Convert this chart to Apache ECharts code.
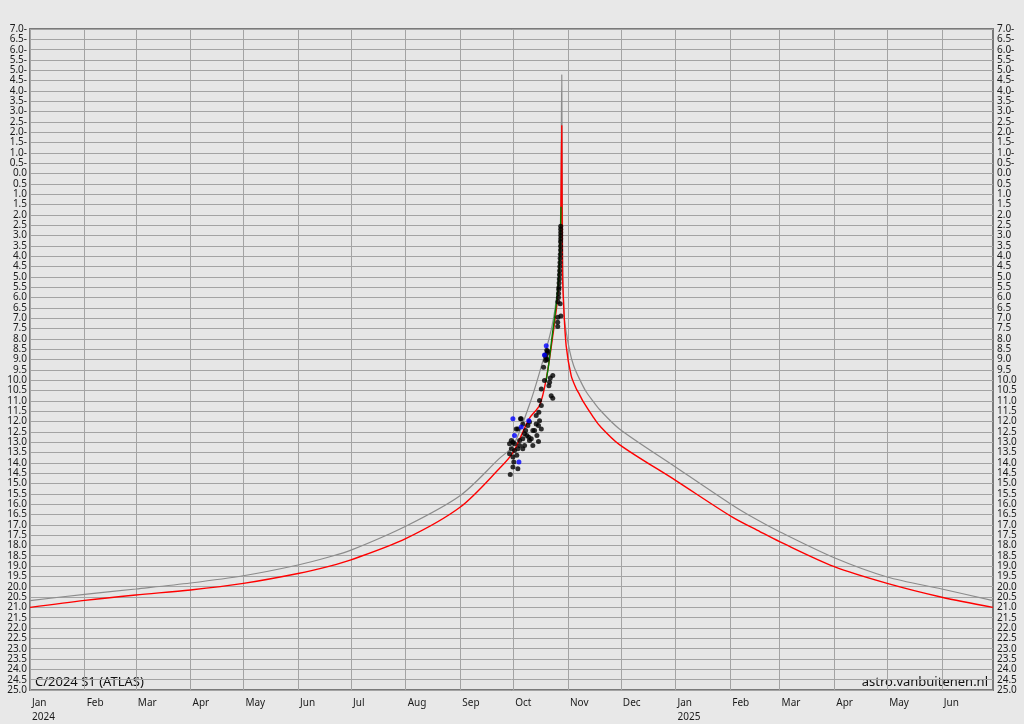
<!DOCTYPE html>
<html><head><meta charset="utf-8">
<script src="https://cdn.jsdelivr.net/npm/echarts@6/dist/echarts.min.js"></script>
<style>html,body{margin:0;padding:0;background:#e8e8e8}#c{width:1024px;height:724px}</style>
</head><body><div id="c"></div><script>
// ---- data ----
const monthStarts = ['2024-01-01','2024-02-01','2024-03-01','2024-04-01','2024-05-01','2024-06-01','2024-07-01','2024-08-01','2024-09-01','2024-10-01','2024-11-01','2024-12-01','2025-01-01','2025-02-01','2025-03-01','2025-04-01','2025-05-01','2025-06-01'];
const monthNames = ['Jan','Feb','Mar','Apr','May','Jun','Jul','Aug','Sep','Oct','Nov','Dec'];

const grayDates = ['2024-01-01','2024-02-01','2024-03-01','2024-04-01','2024-05-01','2024-06-01','2024-06-19','2024-07-01','2024-08-01','2024-09-01','2024-09-23','2024-10-01','2024-10-10','2024-10-16','2024-10-23','2024-10-26 06:00','2024-10-27 12:00','2024-10-28 00:00','2024-10-28 12:00','2024-10-29 00:00','2024-10-29 12:00','2024-10-30 00:00','2024-11-02 00:00','2024-11-04 06:00','2024-11-07 14:00','2024-11-11 06:00','2024-11-15 02:00','2024-11-18 22:00','2024-11-30 05:00','2025-01-01','2025-02-01','2025-02-15','2025-03-01','2025-04-01','2025-05-01','2025-06-01','2025-06-30'];
const grayMag = [20.67,20.37,20.11,19.82,19.47,18.95,18.55,18.23,17.07,15.58,13.8,13.16,11.23,9.6,7.37,5.4,3.2,1.0,-4.78,4.0,6.0,7.05,8.6,9.3,9.95,10.55,11.0,11.42,12.36,14.2,15.98,16.7,17.34,18.6,19.53,20.11,20.67];

const redDates = ['2024-01-01','2024-02-01','2024-03-01','2024-04-01','2024-05-01','2024-06-01','2024-06-19','2024-07-01','2024-08-01','2024-09-01','2024-09-23','2024-10-01','2024-10-10','2024-10-16','2024-10-19 16:00','2024-10-23 10:00','2024-10-26 06:00','2024-10-27 14:00','2024-10-28 00:00','2024-10-28 12:00','2024-10-28 22:00','2024-10-29 14:00','2024-10-31 00:00','2024-11-02 20:00','2024-11-05 16:00','2024-11-07 14:00','2024-11-09 10:00','2024-11-15 02:00','2024-11-18 22:00','2024-11-30 05:00','2025-01-01','2025-02-02','2025-02-18','2025-03-01','2025-04-01','2025-05-01','2025-06-01','2025-06-30'];
const redMag = [21.0,20.66,20.40,20.16,19.84,19.36,19.0,18.70,17.67,16.14,14.29,13.48,11.87,11.2,9.95,7.85,5.92,3.5,1.9,-2.33,4.78,6.4,8.34,9.78,10.4,10.7,11.0,11.75,12.2,13.12,14.85,16.62,17.34,17.82,19.03,19.84,20.51,21.0];

// green fit: day of October 2024 (fractional), magnitude
const greenOctDay = [19.5,21,23,25,26.5,27.5,28.1];
const greenMag = [10.1,9.3,7.9,6.6,5.4,3.6,1.6];

// observations: [day of October 2024 (fractional), magnitude]
const obsBlack = [
 [27.9,2.55],[27.9,2.7],[27.9,2.85],[27.9,3.0],[27.9,3.15],[27.8,3.3],[27.8,3.5],[27.8,3.7],[27.7,3.9],[27.6,4.1],[27.5,4.3],[27.4,4.5],[27.3,4.7],[27.2,4.9],[27.1,5.1],[27.0,5.3],[26.9,5.5],[26.8,5.6],[26.7,5.8],[26.6,6.0],
 [26.3,6.2],[27.6,6.3],[26.3,6.95],[28.0,6.9],[26.2,7.2],[26.2,7.4],
 [20.0,8.55],[20.3,8.7],[19.6,8.9],[20.1,9.0],[19.3,9.05],[18.2,9.38],[23.4,9.78],[18.7,10.02],[21.6,10.1],[16.9,10.43],[21.2,10.27],[22.5,10.75],[23.4,10.88],[15.9,10.99],[16.9,11.23],[15.5,11.55],[14.0,11.71],[15.9,11.96],[14.0,12.12],[15.3,12.2],[16.9,12.36],[13.1,12.44],[14.4,12.68],[12.1,12.44],[10.2,12.03],[9.3,12.2],[6.4,12.12],[5.5,11.87],[5.1,11.87],[3.6,12.36],[2.7,12.36],[8.0,12.44],[7.4,12.6],[8.7,12.68],[9.8,12.76],[11.2,12.84],[10.2,12.92],[6.4,12.84],[4.6,12.92],[-0.1,12.92],[0.8,13.0],[-1.1,13.08],[1.7,13.08],[4.6,13.16],[7.4,13.16],[12.1,13.16],[15.3,12.97],[3.6,13.32],[6.4,13.32],[-0.1,13.32],[1.7,13.4],[3.0,13.64],[-1.1,13.56],[0.8,13.72],[0.8,14.2],[3.6,14.29],[-0.7,14.57],[1.3,13.96],[19.0,8.8],[20.5,8.6],[22.0,9.9]
];
const obsBlue = [[19.7,8.34],[18.7,8.78],[9.8,11.97],[5.5,12.27],[0.8,11.87],[1.7,12.68],[4.2,13.96]];

// ---- helpers ----
function ts(s){
  const [d,tm] = s.split(' ');
  const [y,m,dd] = d.split('-').map(Number);
  let h=0,mi=0; if(tm){[h,mi]=tm.split(':').map(Number);}
  return new Date(y,m-1,dd,h,mi).getTime();
}
const octBase = new Date(2024,9,1).getTime();
function oct(d){ return octBase + (d-1)*86400000; }
function zip(dates,vals){ return dates.map((d,i)=>[ts(d),vals[i]]); }
function magLabel(v){ return v<0 ? (-v).toFixed(1)+'-' : v.toFixed(1); }

const monthTs = monthStarts.map(ts);
const FONT = 'Noto Sans';

const chart = echarts.init(document.getElementById('c'));
chart.setOption({
  animation:false,
  backgroundColor:'#e8e8e8',
  grid:{left:30,right:31,top:29,bottom:32,show:true,backgroundColor:'#e6e6e6',borderColor:'#7a7a7a',borderWidth:2},
  xAxis:{type:'value',min:ts('2024-01-01'),max:ts('2025-06-30'),scale:true,
    axisLine:{show:false},
    axisTick:{show:false,customValues:monthTs},
    splitLine:{show:true,lineStyle:{color:'#a3a3a3',width:1}},
    axisLabel:{customValues:monthTs,align:'left',padding:[0,0,0,2],margin:6,color:'#1a1a1a',fontFamily:FONT,fontSize:10,lineHeight:14,
      formatter:function(v){const d=new Date(v);const m=d.getMonth();return monthNames[m]+(m===0?'\n'+d.getFullYear():'');}}
  },
  yAxis:[
    {type:'value',inverse:true,min:-7,max:25,interval:0.5,position:'left',
     axisLine:{show:false},axisTick:{show:false},
     splitLine:{show:true,lineStyle:{color:'#a3a3a3',width:1}},
     axisLabel:{formatter:magLabel,margin:3,color:'#1a1a1a',fontFamily:FONT,fontSize:10}},
    {type:'value',inverse:true,min:-7,max:25,interval:0.5,position:'right',
     axisLine:{show:false},axisTick:{show:false},splitLine:{show:false},
     axisLabel:{formatter:magLabel,margin:4,align:'left',color:'#1a1a1a',fontFamily:FONT,fontSize:10}}
  ],
  graphic:[
    {type:'text',left:35,top:676,style:{text:'C/2024 S1 (ATLAS)',fill:'#111',fontFamily:FONT,fontSize:13}},
    {type:'text',right:36,top:676,style:{text:'astro.vanbuitenen.nl',fill:'#111',fontFamily:FONT,fontSize:13}}
  ],
  series:[
    {type:'line',data:zip(grayDates,grayMag),showSymbol:false,smooth:0.3,lineStyle:{color:'#8c8c8c',width:1.2},z:2},
    {type:'line',data:zip(redDates,redMag),showSymbol:false,smooth:0.3,lineStyle:{color:'#ff0000',width:1.4},z:3},
    {type:'line',data:greenOctDay.map((d,i)=>[oct(d),greenMag[i]]),showSymbol:false,smooth:0.3,lineStyle:{color:'#008000',width:1.4},z:4},
    {type:'scatter',data:obsBlack.map(p=>[oct(p[0]),p[1]]),symbol:'circle',symbolSize:5,itemStyle:{color:'#000'},z:5},
    {type:'scatter',data:obsBlue.map(p=>[oct(p[0]),p[1]]),symbol:'circle',symbolSize:5,itemStyle:{color:'#0000ff'},z:6}
  ]
});
</script></body></html>
